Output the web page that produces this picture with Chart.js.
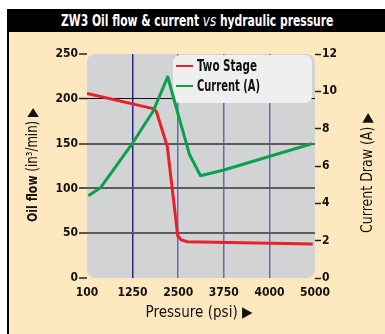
<!DOCTYPE html>
<html>
<head>
<meta charset="utf-8">
<script src="https://cdn.jsdelivr.net/npm/chart.js@4.4.0/dist/chart.umd.min.js"></script>
<style>
  html, body { margin: 0; padding: 0; background: #fff; }
  #panel {
    position: absolute; left: 7px; top: 9px; width: 376px; height: 325px;
    background: #fee8bf; border-left: 2px solid #000;
  }
  #title {
    height: 23px; background: #000; color: #fff; text-align: center;
    font: bold 16px 'DejaVu Sans Condensed', sans-serif;
    line-height: 23px; white-space: nowrap;
  }
  #title span { display: inline-block; transform-origin: 50% 50%; }
  #title i { font-family: 'DejaVu Sans', sans-serif; font-style: oblique; font-weight: normal; }
  #wrap { position: absolute; left: 0; top: 0; width: 385px; height: 334px; }
</style>
</head>
<body>
<div id="panel"><div id="title"><span>ZW3 Oil flow &amp; current <i>vs</i> hydraulic pressure</span></div></div>
<div id="wrap"><canvas id="flowChart" width="385" height="334"></canvas></div>
<script>
const xLabels = ['100', '1250', '2500', '3750', '4000', '5000'];

// oil flow, Two Stage (in3/min), x in label positions
const flowX = [0, 1.45, 1.52, 1.76, 1.99, 2.07, 2.2, 4.95];
const flowY = [206, 189, 186, 147, 47, 42.5, 40.5, 38];

// current draw (A)
const currentX = [0.03, 0.29, 1.0, 1.45, 1.77, 1.99, 2.25, 2.49, 3.02, 4.93];
const currentY = [4.4, 4.82, 7.23, 8.93, 10.78, 8.84, 6.6, 5.48, 5.8, 7.19];

const FONT = "'DejaVu Sans Condensed', sans-serif";

const pts = (xs, ys) => xs.map((x, i) => ({ x: x, y: ys[i] }));

// squeeze the title into its narrow face width
const tspan = document.querySelector('#title span');
tspan.style.transform = 'scaleX(' + (272 / tspan.offsetWidth) + ')';

// draw text parts side by side, squeezed to a given total width, centred on 0
function squeezed(ctx, parts, width) {
  const ws = parts.map(p => { ctx.font = p[1]; return ctx.measureText(p[0]).width; });
  const total = ws.reduce((a, b) => a + b, 0);
  ctx.save();
  ctx.scale(width / total, 1);
  let x = -total / 2;
  ctx.textAlign = 'left';
  parts.forEach((p, i) => { ctx.font = p[1]; ctx.fillText(p[0], x, 0); x += ws[i]; });
  ctx.restore();
}

// rounded grey plot background
const plotBg = {
  id: 'plotBg',
  beforeDraw(chart) {
    const { ctx, chartArea: a } = chart;
    ctx.save();
    ctx.fillStyle = '#d2d3d5';
    ctx.beginPath();
    ctx.roundRect(a.left, a.top, a.right - a.left, a.bottom - a.top, 8);
    ctx.fill();
    ctx.restore();
  }
};

// legend box in the upper right of the plot
const boxLegend = {
  id: 'boxLegend',
  beforeDatasetsDraw(chart) {
    const ctx = chart.ctx;
    const widths = [60, 63];
    ctx.save();
    ctx.fillStyle = '#efeff0';
    ctx.beginPath();
    ctx.roundRect(173, 55, 139, 48, 7);
    ctx.fill();
    ctx.textBaseline = 'middle';
    chart.data.datasets.forEach((ds, i) => {
      const y = 66 + i * 20;
      ctx.strokeStyle = ds.borderColor;
      ctx.lineWidth = 2;
      ctx.beginPath();
      ctx.moveTo(176, y);
      ctx.lineTo(193, y);
      ctx.stroke();
      ctx.fillStyle = '#111';
      ctx.save();
      ctx.translate(197 + widths[i] / 2, y + 1);
      squeezed(ctx, [[ds.label, 'bold 15px ' + FONT]], widths[i]);
      ctx.restore();
    });
    ctx.restore();
  }
};

// axis titles, the side ones reading bottom to top
const axisTitles = {
  id: 'axisTitles',
  afterDraw(chart) {
    const ctx = chart.ctx;
    ctx.save();
    ctx.fillStyle = '#111';
    ctx.textBaseline = 'middle';

    ctx.save();
    ctx.translate(33, 165);
    ctx.rotate(-Math.PI / 2);
    squeezed(ctx, [['Oil flow ', 'bold 14px ' + FONT], ['(in\u00b3/min) \u25b6', '15px ' + FONT]], 114);
    ctx.restore();

    ctx.save();
    ctx.translate(368, 173);
    ctx.rotate(-Math.PI / 2);
    squeezed(ctx, [['Current Draw (A) \u25b6', '15px ' + FONT]], 120);
    ctx.restore();

    ctx.translate(199, 313);
    squeezed(ctx, [['Pressure (psi) \u25b6', '15px ' + FONT]], 107);
    ctx.restore();
  }
};

new Chart(document.getElementById('flowChart'), {
  type: 'line',
  data: {
    datasets: [{
      label: 'Two Stage',
      data: pts(flowX, flowY),
      yAxisID: 'y',
      borderColor: '#e8202a',
      borderWidth: 3,
      pointRadius: 0,
      tension: 0,
      borderJoinStyle: 'round',
      order: 2
    }, {
      label: 'Current (A)',
      data: pts(currentX, currentY),
      yAxisID: 'y1',
      borderColor: '#0aa14b',
      borderWidth: 3,
      pointRadius: 0,
      tension: 0,
      borderJoinStyle: 'round',
      order: 1
    }]
  },
  options: {
    responsive: false,
    animation: false,
    devicePixelRatio: 1,
    layout: { padding: { top: 54, left: 0, right: 0, bottom: 0 } },
    plugins: { legend: { display: false }, tooltip: { enabled: false } },
    scales: {
      x: {
        type: 'linear',
        min: 0,
        max: 5,
        afterFit(s) { s.height = 56; },
        border: { display: false },
        grid: {
          drawTicks: false,
          lineWidth: 1.5,
          color: c => (c.tick.value === 0 || c.tick.value === 5) ? 'rgba(0,0,0,0)'
            : (c.tick.value === 1 ? '#2a2a80' : '#6a6ab4')
        },
        ticks: {
          stepSize: 1,
          padding: 8,
          maxRotation: 0,
          color: '#111',
          font: { family: FONT, size: 12, weight: 'bold' },
          callback: v => xLabels[v]
        }
      },
      y: {
        position: 'left',
        min: 0,
        max: 250,
        afterFit(s) { s.width = 87; },
        border: { display: false },
        grid: {
          tickLength: 8,
          tickColor: '#222',
          tickWidth: 1.5,
          lineWidth: c => c.tick.value === 200 ? 1 : 2,
          color: c => (c.tick.value === 0 || c.tick.value === 250) ? 'rgba(0,0,0,0)'
            : (c.tick.value === 200 ? '#111' : '#5c5c5c')
        },
        ticks: {
          stepSize: 50,
          padding: 1,
          color: '#111',
          font: { family: FONT, size: 12, weight: 'bold' }
        }
      },
      y1: {
        position: 'right',
        min: 0,
        max: 12,
        afterFit(s) { s.width = 70; },
        border: { display: false },
        grid: {
          drawOnChartArea: false,
          tickLength: 6,
          tickColor: '#222',
          tickWidth: 1.5
        },
        ticks: {
          stepSize: 2,
          padding: 1,
          color: '#111',
          font: { family: FONT, size: 12, weight: 'bold' }
        }
      }
    }
  },
  plugins: [plotBg, boxLegend, axisTitles]
});
</script>
</body>
</html>
